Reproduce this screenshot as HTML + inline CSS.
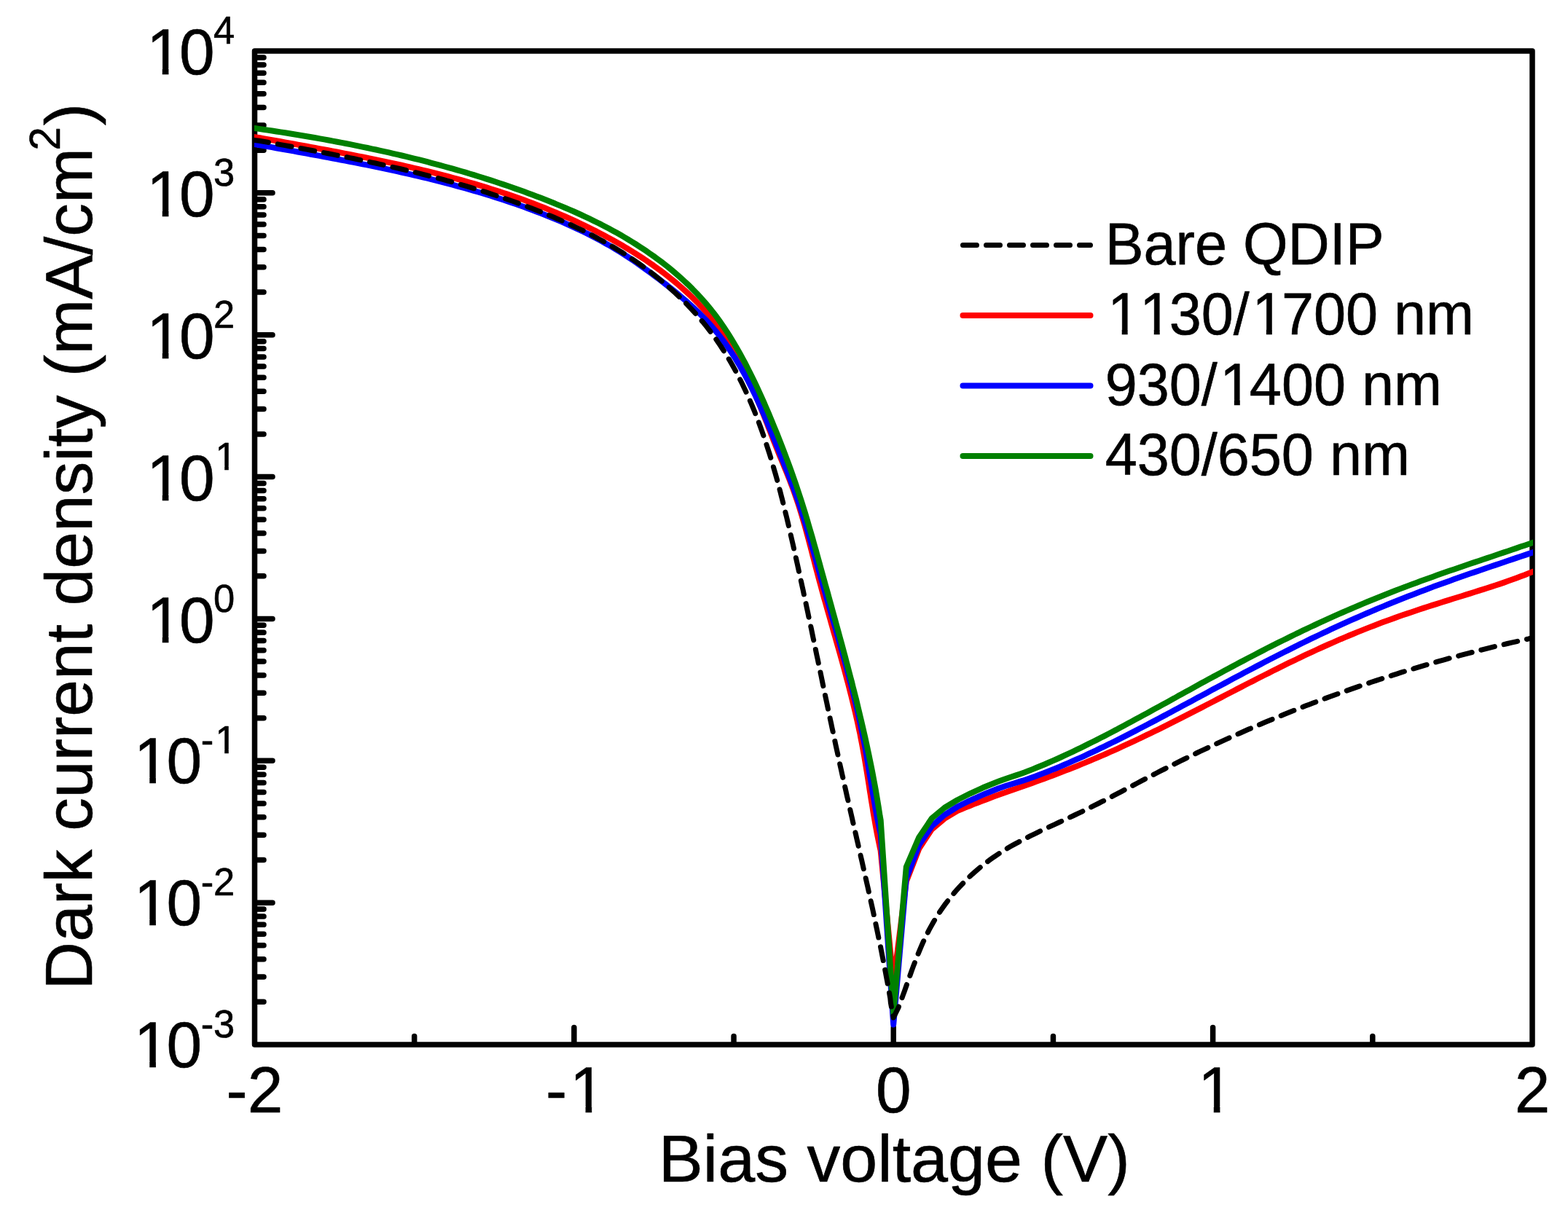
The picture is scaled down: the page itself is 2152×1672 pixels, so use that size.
<!DOCTYPE html>
<html lang="en">
<head>
<meta charset="utf-8">
<title>Dark current density vs bias voltage</title>
<style>
html,body{margin:0;padding:0;background:#fff;}
body{width:2152px;height:1672px;overflow:hidden;}
svg{display:block;}
text{font-family:"Liberation Sans",sans-serif;fill:#000;stroke:#000;stroke-width:0.6px;stroke-linejoin:round;font-kerning:none;font-variant-ligatures:none;white-space:pre;}
.tk{font-size:87.5px;}
.sp{font-size:52.5px;}
.ti{font-size:91.67px;}
.ts{font-size:58.3px;}
.lg{font-size:79.2px;}
.ax{stroke:#000;stroke-width:7.5;fill:none;stroke-linecap:round;stroke-linejoin:round;}
</style>
</head>
<body>
<svg width="2152" height="1672" viewBox="0 0 2152 1672">
<rect x="0" y="0" width="2152" height="1672" fill="#fff"/>

<g id="axes">
<path class="ax" d="M350.5 1375.34h11.5M350.5 1341.03h11.5M350.5 1316.68h11.5M350.5 1297.80h11.5M350.5 1282.37h11.5M350.5 1269.33h11.5M350.5 1258.03h11.5M350.5 1248.06h11.5M350.5 1239.14h23.5M350.5 1180.49h11.5M350.5 1146.17h11.5M350.5 1121.83h11.5M350.5 1102.94h11.5M350.5 1087.51h11.5M350.5 1074.47h11.5M350.5 1063.17h11.5M350.5 1053.20h11.5M350.5 1044.29h23.5M350.5 985.63h11.5M350.5 951.32h11.5M350.5 926.97h11.5M350.5 908.09h11.5M350.5 892.66h11.5M350.5 879.61h11.5M350.5 868.31h11.5M350.5 858.34h11.5M350.5 849.43h23.5M350.5 790.77h11.5M350.5 756.46h11.5M350.5 732.11h11.5M350.5 713.23h11.5M350.5 697.80h11.5M350.5 684.76h11.5M350.5 673.46h11.5M350.5 663.49h11.5M350.5 654.57h23.5M350.5 595.91h11.5M350.5 561.60h11.5M350.5 537.26h11.5M350.5 518.37h11.5M350.5 502.94h11.5M350.5 489.90h11.5M350.5 478.60h11.5M350.5 468.63h11.5M350.5 459.71h23.5M350.5 401.06h11.5M350.5 366.74h11.5M350.5 342.40h11.5M350.5 323.51h11.5M350.5 308.09h11.5M350.5 295.04h11.5M350.5 283.74h11.5M350.5 273.77h11.5M350.5 264.86h23.5M350.5 206.20h11.5M350.5 171.89h11.5M350.5 147.54h11.5M350.5 128.66h11.5M350.5 113.23h11.5M350.5 100.18h11.5M350.5 88.88h11.5M350.5 78.92h11.5M568.69 1433.0v-10.5M787.88 1433.0v-22.5M1007.06 1433.0v-10.5M1226.25 1433.0v-22.5M1445.44 1433.0v-10.5M1664.62 1433.0v-22.5M1883.81 1433.0v-10.5"/>
<rect class="ax" x="349.5" y="70.0" width="1753.5" height="1364.0"/>
</g>
<g id="curves">
<clipPath id="pc"><rect x="349" y="66" width="1755" height="1372"/></clipPath>
<g clip-path="url(#pc)" fill="none" stroke-linejoin="round">
<path id="c-red" stroke="#f00" stroke-width="8" d="M343.5 187.4L349.5 188.2L355.5 189.0L361.4 190.1L367.3 191.1L373.2 192.2L379.1 193.3L385.0 194.3L390.9 195.4L396.8 196.5L402.8 197.5L408.7 198.6L414.6 199.7L420.5 200.8L426.5 201.9L432.4 203.0L438.3 204.1L444.3 205.2L450.2 206.3L456.1 207.4L462.1 208.5L468.0 209.6L473.9 210.8L479.9 211.9L485.8 213.1L491.7 214.3L497.7 215.5L503.6 216.7L509.5 217.9L515.5 219.1L521.4 220.3L527.3 221.6L533.2 222.8L539.1 224.1L545.0 225.4L551.0 226.7L556.9 228.1L562.7 229.4L568.6 230.8L574.5 232.2L580.4 233.6L586.3 235.0L592.2 236.4L598.0 237.9L603.9 239.4L609.7 240.9L615.6 242.4L621.4 244.0L627.2 245.6L633.1 247.2L638.9 248.8L644.7 250.5L650.5 252.2L656.2 253.9L662.0 255.6L667.8 257.4L673.5 259.2L679.3 261.0L685.0 262.8L690.7 264.7L696.4 266.6L702.1 268.6L707.8 270.6L713.5 272.6L719.2 274.6L724.8 276.7L730.5 278.8L736.1 280.9L741.7 283.1L747.3 285.3L752.9 287.6L758.4 289.9L764.0 292.2L769.5 294.6L775.1 297.0L780.6 299.4L786.1 301.9L791.5 304.4L797.0 307.0L802.4 309.6L807.9 312.3L813.3 315.0L818.7 317.7L824.0 320.5L829.4 323.3L834.7 326.2L840.0 329.1L845.3 332.1L850.6 335.1L855.9 338.1L861.1 341.2L866.3 344.4L871.5 347.6L876.6 350.9L881.7 354.2L886.8 357.5L891.8 361.0L896.8 364.4L901.7 367.9L906.6 371.5L911.4 375.2L916.2 378.9L920.9 382.6L925.6 386.4L930.2 390.3L934.8 394.2L939.3 398.2L943.7 402.3L948.1 406.4L952.4 410.6L956.6 414.8L960.8 419.2L964.8 423.5L968.8 428.0L972.8 432.5L976.6 437.1L980.3 441.7L984.0 446.5L987.5 451.3L991.0 456.1L994.4 461.1L997.7 466.1L1000.9 471.1L1004.0 476.3L1007.1 481.5L1010.1 486.7L1013.0 492.0L1015.8 497.3L1018.6 502.7L1021.3 508.1L1023.9 513.6L1026.5 519.1L1029.1 524.7L1031.6 530.2L1034.0 535.8L1036.4 541.4L1038.8 547.0L1041.2 552.7L1043.5 558.3L1045.8 564.0L1048.1 569.7L1050.3 575.4L1052.6 581.0L1054.8 586.7L1057.0 592.4L1059.2 598.0L1061.4 603.7L1063.6 609.3L1065.9 614.9L1068.1 620.5L1070.3 626.0L1072.6 631.5L1074.9 637.1L1077.1 642.5L1079.4 648.0L1081.6 653.5L1083.8 659.0L1085.9 664.6L1088.0 670.1L1090.0 675.7L1092.0 681.3L1093.9 686.9L1095.8 692.6L1097.6 698.3L1099.4 704.1L1101.1 709.8L1102.8 715.6L1104.5 721.4L1106.1 727.2L1107.7 733.1L1109.3 738.9L1110.8 744.8L1112.4 750.7L1113.9 756.5L1115.4 762.4L1117.0 768.3L1118.5 774.2L1120.0 780.1L1121.6 785.9L1123.1 791.8L1124.7 797.7L1126.3 803.5L1127.9 809.4L1129.5 815.2L1131.1 821.1L1132.8 826.9L1134.4 832.7L1136.1 838.5L1137.7 844.3L1139.4 850.2L1141.0 856.0L1142.7 861.8L1144.3 867.6L1146.0 873.4L1147.6 879.2L1149.3 885.0L1150.9 890.8L1152.6 896.6L1154.2 902.4L1155.8 908.2L1157.4 914.0L1159.0 919.8L1160.6 925.6L1162.1 931.5L1163.7 937.3L1165.2 943.1L1166.7 948.9L1168.2 954.8L1169.6 960.6L1171.1 966.4L1172.5 972.3L1173.9 978.1L1175.2 984.0L1176.6 989.9L1177.9 995.8L1179.1 1001.7L1180.4 1007.5L1181.5 1013.5L1182.7 1019.4L1183.8 1025.3L1184.9 1031.2L1186.0 1037.2L1187.0 1043.1L1188.0 1049.1L1189.0 1055.1L1190.0 1061.0L1190.9 1067.0L1191.9 1073.0L1192.8 1079.0L1193.7 1084.9L1194.7 1090.9L1195.6 1096.9L1196.6 1102.9L1197.6 1108.8L1198.5 1114.8L1199.5 1120.7L1200.6 1126.7L1201.6 1132.6L1202.7 1138.6L1203.8 1144.5L1205.0 1150.4L1206.2 1156.3L1207.4 1162.1L1208.7 1168.0L1226.2 1350.0L1243.8 1210.0L1261.3 1165.0L1278.9 1138.4L1296.4 1123.7L1313.9 1113.0L1319.6 1110.7L1325.2 1108.4L1330.8 1106.2L1336.5 1103.9L1342.2 1101.7L1347.8 1099.5L1353.5 1097.4L1359.2 1095.2L1364.9 1093.1L1370.6 1091.0L1376.3 1088.9L1382.0 1086.9L1387.8 1084.9L1393.5 1082.9L1399.3 1081.0L1405.0 1079.0L1410.7 1077.0L1416.5 1074.9L1422.2 1072.8L1427.9 1070.8L1433.6 1068.7L1439.3 1066.6L1445.0 1064.4L1450.7 1062.3L1456.4 1060.1L1462.0 1057.9L1467.7 1055.7L1473.3 1053.5L1479.0 1051.2L1484.6 1048.9L1490.2 1046.6L1495.8 1044.3L1501.4 1041.9L1507.0 1039.5L1512.6 1037.1L1518.2 1034.7L1523.8 1032.2L1529.3 1029.8L1534.8 1027.3L1540.4 1024.7L1545.9 1022.2L1551.4 1019.6L1556.9 1017.1L1562.4 1014.5L1567.9 1011.9L1573.4 1009.2L1578.9 1006.6L1584.3 1003.9L1589.8 1001.3L1595.2 998.6L1600.7 995.9L1606.1 993.2L1611.5 990.4L1617.0 987.7L1622.4 984.9L1627.8 982.2L1633.2 979.4L1638.6 976.6L1644.0 973.9L1649.4 971.1L1654.8 968.3L1660.2 965.5L1665.6 962.7L1671.0 959.9L1676.4 957.1L1681.8 954.3L1687.2 951.5L1692.6 948.7L1698.0 945.9L1703.4 943.1L1708.8 940.3L1714.2 937.5L1719.6 934.8L1725.0 932.0L1730.4 929.2L1735.9 926.5L1741.3 923.8L1746.7 921.0L1752.2 918.3L1757.6 915.6L1763.1 912.9L1768.5 910.2L1774.0 907.6L1779.5 905.0L1784.9 902.3L1790.4 899.7L1795.9 897.1L1801.5 894.6L1807.0 892.0L1812.5 889.5L1818.0 887.0L1823.6 884.5L1829.2 882.1L1834.7 879.7L1840.3 877.2L1845.9 874.9L1851.5 872.5L1857.1 870.2L1862.7 867.9L1868.4 865.6L1874.0 863.4L1879.7 861.1L1885.4 858.9L1891.0 856.8L1896.7 854.6L1902.4 852.5L1908.1 850.4L1913.9 848.4L1919.6 846.3L1925.3 844.3L1931.1 842.4L1936.8 840.4L1942.6 838.5L1948.3 836.5L1954.1 834.6L1959.9 832.8L1965.7 830.9L1971.5 829.1L1977.3 827.2L1983.1 825.4L1988.9 823.6L1994.7 821.8L2000.5 820.0L2006.3 818.2L2012.1 816.4L2017.9 814.6L2023.7 812.8L2029.5 810.9L2035.3 809.1L2041.1 807.2L2046.9 805.4L2052.6 803.5L2058.4 801.6L2064.2 799.6L2069.9 797.6L2075.6 795.6L2081.3 793.5L2087.0 791.3L2092.7 789.2L2098.3 786.9L2104.0 784.7L2110.0 782.3"/>
<path id="c-blue" stroke="#00f" stroke-width="8" d="M343.5 197.0L349.5 198.0L355.5 199.0L361.4 200.0L367.3 201.1L373.2 202.1L379.1 203.2L385.0 204.2L390.9 205.3L396.9 206.4L402.8 207.4L408.7 208.5L414.6 209.6L420.6 210.6L426.5 211.7L432.4 212.8L438.4 213.9L444.3 215.0L450.2 216.1L456.2 217.2L462.1 218.3L468.0 219.5L474.0 220.6L479.9 221.7L485.8 222.9L491.8 224.1L497.7 225.3L503.6 226.4L509.5 227.7L515.4 228.9L521.4 230.1L527.3 231.3L533.2 232.6L539.1 233.9L545.0 235.2L550.9 236.5L556.8 237.8L562.7 239.2L568.6 240.5L574.4 241.9L580.3 243.3L586.2 244.7L592.0 246.2L597.9 247.6L603.8 249.1L609.6 250.6L615.4 252.1L621.3 253.7L627.1 255.3L632.9 256.9L638.7 258.5L644.5 260.1L650.3 261.8L656.1 263.5L661.9 265.2L667.6 267.0L673.4 268.8L679.2 270.6L684.9 272.4L690.6 274.3L696.3 276.2L702.1 278.1L707.8 280.1L713.4 282.1L719.1 284.1L724.8 286.2L730.4 288.3L736.1 290.4L741.7 292.5L747.3 294.7L752.9 297.0L758.5 299.3L764.1 301.6L769.6 303.9L775.2 306.3L780.7 308.8L786.2 311.3L791.6 313.8L797.1 316.4L802.5 319.0L807.9 321.7L813.2 324.4L818.6 327.2L823.9 330.1L829.1 333.0L834.4 335.9L839.6 338.9L844.8 342.0L849.9 345.1L855.0 348.3L860.1 351.6L865.1 354.9L870.1 358.3L875.1 361.7L880.0 365.2L884.9 368.7L889.8 372.2L894.7 375.8L899.5 379.5L904.4 383.1L909.2 386.8L914.0 390.5L918.8 394.3L923.5 398.1L928.2 401.9L932.9 405.8L937.5 409.7L942.1 413.6L946.6 417.7L951.0 421.7L955.4 425.9L959.8 430.0L964.0 434.3L968.2 438.6L972.3 443.0L976.3 447.5L980.2 452.0L984.0 456.6L987.7 461.3L991.4 466.1L994.9 470.9L998.4 475.7L1001.8 480.7L1005.1 485.7L1008.4 490.7L1011.5 495.8L1014.6 501.0L1017.6 506.2L1020.6 511.4L1023.4 516.7L1026.3 522.0L1029.0 527.4L1031.7 532.8L1034.4 538.2L1037.0 543.6L1039.5 549.1L1042.0 554.6L1044.5 560.1L1046.9 565.7L1049.4 571.2L1051.7 576.8L1054.1 582.4L1056.4 588.0L1058.7 593.6L1061.0 599.2L1063.3 604.8L1065.5 610.4L1067.8 616.0L1070.1 621.6L1072.3 627.2L1074.6 632.8L1076.8 638.4L1079.1 644.0L1081.3 649.6L1083.5 655.2L1085.6 660.8L1087.8 666.4L1089.9 672.0L1091.9 677.7L1093.9 683.4L1095.9 689.0L1097.8 694.7L1099.7 700.4L1101.5 706.2L1103.3 711.9L1105.1 717.6L1106.8 723.4L1108.5 729.2L1110.2 734.9L1111.9 740.7L1113.5 746.5L1115.2 752.3L1116.8 758.1L1118.5 763.9L1120.1 769.7L1121.7 775.5L1123.3 781.3L1125.0 787.1L1126.6 792.9L1128.3 798.7L1129.9 804.6L1131.6 810.4L1133.3 816.2L1134.9 822.0L1136.6 827.8L1138.3 833.6L1140.0 839.4L1141.6 845.2L1143.3 851.0L1145.0 856.8L1146.7 862.6L1148.3 868.4L1150.0 874.2L1151.7 880.0L1153.3 885.8L1154.9 891.6L1156.6 897.4L1158.2 903.2L1159.8 909.1L1161.4 914.9L1162.9 920.7L1164.5 926.5L1166.0 932.4L1167.6 938.2L1169.1 944.0L1170.5 949.9L1172.0 955.7L1173.4 961.6L1174.8 967.4L1176.2 973.3L1177.6 979.2L1178.9 985.0L1180.2 990.9L1181.5 996.8L1182.7 1002.7L1183.9 1008.6L1185.1 1014.5L1186.3 1020.4L1187.4 1026.3L1188.5 1032.3L1189.5 1038.2L1190.5 1044.1L1191.5 1050.1L1192.5 1056.0L1193.5 1062.0L1194.5 1067.9L1195.5 1073.9L1196.5 1079.8L1197.4 1085.8L1198.4 1091.7L1199.5 1097.7L1200.5 1103.6L1201.5 1109.5L1202.6 1115.5L1203.7 1121.4L1204.9 1127.3L1206.1 1133.2L1207.3 1139.1L1208.7 1145.0L1226.2 1406.5L1243.8 1206.0L1261.3 1160.0L1278.9 1134.0L1296.4 1118.6L1313.9 1107.5L1319.3 1104.7L1324.8 1102.0L1330.2 1099.4L1335.7 1096.8L1341.3 1094.3L1346.8 1091.9L1352.4 1089.5L1358.0 1087.2L1363.6 1085.0L1369.2 1082.8L1374.9 1080.7L1380.6 1078.8L1386.3 1077.0L1392.1 1075.2L1398.0 1073.4L1403.7 1071.7L1409.5 1069.8L1415.2 1067.8L1420.9 1065.7L1426.6 1063.6L1432.2 1061.4L1437.8 1059.2L1443.5 1056.9L1449.1 1054.7L1454.7 1052.4L1460.2 1050.0L1465.8 1047.6L1471.3 1045.2L1476.9 1042.7L1482.4 1040.3L1487.9 1037.8L1493.4 1035.2L1498.9 1032.6L1504.4 1030.1L1509.8 1027.4L1515.3 1024.8L1520.7 1022.2L1526.1 1019.5L1531.6 1016.8L1537.0 1014.1L1542.4 1011.4L1547.8 1008.6L1553.1 1005.9L1558.5 1003.1L1563.9 1000.3L1569.3 997.5L1574.6 994.7L1580.0 991.9L1585.3 989.1L1590.7 986.2L1596.0 983.4L1601.4 980.6L1606.7 977.7L1612.1 974.8L1617.4 972.0L1622.7 969.1L1628.0 966.2L1633.4 963.4L1638.7 960.5L1644.0 957.6L1649.4 954.8L1654.7 951.9L1660.0 949.0L1665.3 946.1L1670.7 943.3L1676.0 940.4L1681.3 937.6L1686.7 934.7L1692.0 931.8L1697.3 929.0L1702.7 926.2L1708.0 923.3L1713.4 920.5L1718.7 917.7L1724.1 914.9L1729.5 912.1L1734.8 909.3L1740.2 906.5L1745.6 903.7L1751.0 901.0L1756.4 898.2L1761.8 895.5L1767.2 892.8L1772.6 890.1L1778.0 887.4L1783.4 884.7L1788.9 882.0L1794.3 879.4L1799.7 876.7L1805.2 874.1L1810.7 871.5L1816.1 868.9L1821.6 866.3L1827.1 863.7L1832.6 861.2L1838.1 858.7L1843.6 856.2L1849.1 853.7L1854.6 851.2L1860.2 848.8L1865.7 846.3L1871.2 843.9L1876.8 841.5L1882.4 839.1L1887.9 836.8L1893.5 834.4L1899.1 832.1L1904.7 829.8L1910.3 827.5L1915.9 825.2L1921.5 823.0L1927.2 820.8L1932.8 818.5L1938.4 816.4L1944.1 814.2L1949.7 812.0L1955.4 809.9L1961.1 807.8L1966.7 805.6L1972.4 803.6L1978.1 801.5L1983.8 799.4L1989.5 797.4L1995.2 795.3L2000.9 793.3L2006.6 791.3L2012.3 789.3L2018.0 787.3L2023.8 785.4L2029.5 783.4L2035.2 781.4L2040.9 779.5L2046.7 777.5L2052.4 775.6L2058.1 773.7L2063.9 771.7L2069.6 769.8L2075.3 767.9L2081.1 765.9L2086.8 764.0L2092.5 762.1L2098.3 760.1L2104.0 758.2L2110.0 756.2"/>
<path id="c-green" stroke="#008000" stroke-width="8" d="M343.5 175.1L349.5 176.0L355.5 176.9L361.5 177.7L367.4 178.6L373.4 179.5L379.4 180.5L385.4 181.4L391.4 182.3L397.3 183.3L403.3 184.3L409.3 185.2L415.3 186.2L421.2 187.2L427.2 188.3L433.1 189.3L439.1 190.4L445.0 191.4L451.0 192.5L456.9 193.6L462.8 194.7L468.8 195.9L474.7 197.0L480.6 198.2L486.5 199.4L492.5 200.6L498.4 201.8L504.3 203.0L510.2 204.3L516.1 205.5L522.0 206.8L527.9 208.1L533.8 209.4L539.6 210.8L545.5 212.1L551.4 213.5L557.2 214.9L563.1 216.3L569.0 217.8L574.8 219.2L580.7 220.7L586.5 222.2L592.3 223.8L598.2 225.3L604.0 226.9L609.8 228.5L615.6 230.1L621.4 231.7L627.2 233.4L633.0 235.0L638.8 236.7L644.6 238.5L650.3 240.2L656.1 242.0L661.9 243.8L667.6 245.6L673.4 247.4L679.1 249.3L684.9 251.2L690.6 253.1L696.3 255.1L702.0 257.1L707.8 259.1L713.5 261.1L719.2 263.1L724.8 265.2L730.5 267.3L736.2 269.4L741.9 271.6L747.5 273.8L753.2 276.0L758.8 278.3L764.4 280.6L770.0 282.9L775.6 285.2L781.2 287.6L786.8 290.0L792.3 292.5L797.8 295.0L803.3 297.6L808.8 300.2L814.2 302.8L819.7 305.5L825.1 308.2L830.4 311.0L835.8 313.8L841.1 316.7L846.4 319.6L851.7 322.6L856.9 325.6L862.1 328.7L867.2 331.8L872.3 335.0L877.4 338.3L882.5 341.6L887.5 344.9L892.4 348.4L897.4 351.9L902.2 355.4L907.1 359.0L911.8 362.7L916.6 366.4L921.2 370.2L925.9 374.1L930.4 378.0L934.9 382.0L939.4 386.1L943.8 390.2L948.1 394.4L952.3 398.7L956.5 403.0L960.6 407.4L964.6 411.9L968.6 416.4L972.5 421.0L976.3 425.7L980.0 430.4L983.6 435.2L987.2 440.1L990.6 445.0L994.0 450.0L997.4 455.1L1000.6 460.2L1003.8 465.3L1006.9 470.5L1010.0 475.7L1013.0 481.0L1016.0 486.3L1018.9 491.6L1021.8 496.9L1024.6 502.3L1027.3 507.7L1030.0 513.1L1032.7 518.5L1035.4 524.0L1038.0 529.4L1040.5 534.9L1043.0 540.4L1045.5 545.9L1048.0 551.5L1050.4 557.0L1052.8 562.6L1055.2 568.1L1057.5 573.7L1059.8 579.3L1062.1 584.9L1064.4 590.5L1066.7 596.1L1068.9 601.7L1071.1 607.3L1073.3 612.9L1075.4 618.5L1077.6 624.1L1079.7 629.8L1081.8 635.4L1083.9 641.1L1085.9 646.7L1087.9 652.4L1089.9 658.1L1091.9 663.8L1093.8 669.5L1095.7 675.2L1097.6 680.9L1099.5 686.7L1101.3 692.4L1103.1 698.2L1104.9 704.0L1106.6 709.7L1108.3 715.5L1110.0 721.3L1111.7 727.1L1113.4 732.9L1115.1 738.7L1116.7 744.5L1118.3 750.3L1120.0 756.2L1121.6 762.0L1123.2 767.8L1124.8 773.6L1126.4 779.5L1128.0 785.3L1129.6 791.1L1131.2 796.9L1132.8 802.8L1134.5 808.6L1136.1 814.4L1137.7 820.2L1139.3 826.1L1140.9 831.9L1142.5 837.7L1144.1 843.5L1145.7 849.4L1147.3 855.2L1148.9 861.0L1150.5 866.9L1152.1 872.7L1153.7 878.5L1155.3 884.3L1156.9 890.2L1158.4 896.0L1160.0 901.9L1161.5 907.7L1163.1 913.5L1164.6 919.4L1166.1 925.2L1167.6 931.1L1169.2 936.9L1170.6 942.8L1172.1 948.6L1173.6 954.5L1175.1 960.3L1176.5 966.2L1177.9 972.1L1179.3 977.9L1180.7 983.8L1182.1 989.7L1183.5 995.6L1184.8 1001.4L1186.2 1007.3L1187.5 1013.2L1188.8 1019.1L1190.1 1025.0L1191.3 1030.9L1192.6 1036.8L1193.8 1042.7L1195.0 1048.6L1196.2 1054.6L1197.4 1060.5L1198.5 1066.4L1199.6 1072.4L1200.7 1078.3L1201.8 1084.3L1202.8 1090.2L1203.8 1096.2L1204.8 1102.1L1205.8 1108.1L1206.7 1114.1L1207.6 1120.1L1208.7 1126.0L1226.2 1392.0L1243.8 1190.0L1261.3 1149.4L1278.9 1123.3L1296.4 1108.7L1313.9 1098.2L1331.5 1089.3L1349.0 1081.3L1354.6 1079.0L1360.2 1076.7L1365.8 1074.5L1371.5 1072.3L1377.1 1070.2L1382.8 1068.2L1388.6 1066.3L1394.3 1064.4L1400.0 1062.4L1405.7 1060.4L1411.4 1058.3L1417.0 1056.1L1422.6 1053.8L1428.2 1051.5L1433.8 1049.2L1439.4 1046.8L1444.9 1044.4L1450.4 1042.0L1455.9 1039.5L1461.4 1036.9L1466.9 1034.4L1472.4 1031.8L1477.8 1029.2L1483.3 1026.6L1488.7 1023.9L1494.1 1021.2L1499.5 1018.5L1504.9 1015.8L1510.3 1013.0L1515.7 1010.3L1521.1 1007.5L1526.4 1004.7L1531.8 1001.9L1537.1 999.0L1542.4 996.2L1547.8 993.3L1553.1 990.5L1558.4 987.6L1563.7 984.7L1569.1 981.8L1574.4 979.0L1579.7 976.0L1585.0 973.1L1590.3 970.2L1595.6 967.3L1600.9 964.4L1606.2 961.5L1611.5 958.6L1616.7 955.6L1622.0 952.7L1627.3 949.8L1632.6 946.9L1637.9 944.0L1643.2 941.1L1648.5 938.1L1653.8 935.2L1659.1 932.3L1664.4 929.4L1669.8 926.6L1675.1 923.7L1680.4 920.8L1685.7 917.9L1691.0 915.1L1696.4 912.2L1701.7 909.4L1707.1 906.6L1712.4 903.8L1717.8 901.0L1723.1 898.2L1728.5 895.4L1733.9 892.6L1739.3 889.8L1744.6 887.1L1750.0 884.4L1755.4 881.7L1760.9 879.0L1766.3 876.3L1771.7 873.6L1777.1 871.0L1782.6 868.3L1788.0 865.7L1793.5 863.1L1799.0 860.5L1804.4 858.0L1809.9 855.4L1815.4 852.9L1820.9 850.4L1826.4 847.9L1831.9 845.4L1837.5 842.9L1843.0 840.5L1848.5 838.1L1854.1 835.7L1859.6 833.3L1865.2 831.0L1870.8 828.6L1876.4 826.3L1882.0 824.0L1887.6 821.7L1893.2 819.5L1898.8 817.2L1904.4 815.0L1910.0 812.8L1915.7 810.6L1921.3 808.4L1927.0 806.3L1932.6 804.1L1938.3 802.0L1944.0 799.9L1949.6 797.8L1955.3 795.8L1961.0 793.7L1966.7 791.7L1972.4 789.6L1978.1 787.6L1983.8 785.6L1989.5 783.6L1995.2 781.7L2000.9 779.7L2006.7 777.7L2012.4 775.8L2018.1 773.8L2023.8 771.9L2029.6 770.0L2035.3 768.0L2041.0 766.1L2046.8 764.2L2052.5 762.3L2058.2 760.3L2063.9 758.4L2069.7 756.5L2075.4 754.5L2081.1 752.6L2086.8 750.6L2092.6 748.7L2098.3 746.7L2104.0 744.7L2110.0 742.7"/>
<path id="c-black" stroke="#000" stroke-width="7" stroke-dasharray="19.1 13.05" stroke-dashoffset="-6.1" stroke-linecap="round" d="M343.5 191.8L349.5 192.5L355.6 193.2L361.5 194.2L367.5 195.3L373.4 196.4L379.4 197.5L385.3 198.6L391.2 199.6L397.2 200.7L403.1 201.8L409.0 202.9L415.0 204.0L420.9 205.1L426.8 206.2L432.7 207.4L438.7 208.5L444.6 209.6L450.5 210.8L456.4 211.9L462.3 213.1L468.2 214.3L474.1 215.4L480.0 216.6L485.9 217.8L491.8 219.1L497.7 220.3L503.6 221.5L509.5 222.8L515.4 224.0L521.3 225.3L527.1 226.6L533.0 227.9L538.9 229.3L544.7 230.6L550.6 232.0L556.4 233.4L562.3 234.8L568.1 236.2L574.0 237.6L579.8 239.1L585.6 240.6L591.4 242.1L597.3 243.6L603.1 245.1L608.9 246.7L614.7 248.3L620.5 249.9L626.3 251.6L632.0 253.2L637.8 254.9L643.6 256.6L649.3 258.4L655.1 260.1L660.8 261.9L666.6 263.7L672.3 265.6L678.0 267.5L683.8 269.4L689.5 271.3L695.2 273.3L700.9 275.3L706.6 277.3L712.3 279.4L717.9 281.5L723.6 283.6L729.3 285.8L734.9 288.0L740.6 290.2L746.2 292.5L751.8 294.8L757.4 297.1L763.0 299.5L768.6 301.9L774.1 304.4L779.7 306.9L785.2 309.5L790.7 312.1L796.2 314.7L801.7 317.4L807.1 320.1L812.5 322.9L817.9 325.8L823.2 328.7L828.6 331.6L833.9 334.6L839.1 337.6L844.4 340.8L849.6 343.9L854.8 347.1L859.9 350.4L865.0 353.8L870.0 357.2L875.1 360.6L880.0 364.1L885.0 367.7L889.9 371.3L894.7 375.0L899.5 378.8L904.2 382.6L908.9 386.4L913.5 390.3L918.1 394.3L922.6 398.3L927.1 402.4L931.5 406.6L935.8 410.8L940.1 415.0L944.3 419.3L948.4 423.7L952.5 428.1L956.5 432.5L960.4 437.1L964.3 441.6L968.1 446.2L971.7 450.9L975.4 455.6L978.9 460.4L982.4 465.2L985.7 470.1L989.1 475.0L992.3 480.0L995.5 485.0L998.6 490.0L1001.6 495.1L1004.6 500.2L1007.5 505.4L1010.3 510.6L1013.1 515.9L1015.8 521.2L1018.5 526.5L1021.1 531.9L1023.6 537.3L1026.1 542.7L1028.5 548.2L1030.9 553.6L1033.2 559.2L1035.5 564.7L1037.7 570.3L1039.9 575.9L1042.0 581.5L1044.1 587.2L1046.1 592.9L1048.1 598.6L1050.0 604.3L1051.9 610.1L1053.8 615.8L1055.7 621.6L1057.5 627.4L1059.2 633.3L1060.9 639.1L1062.6 644.9L1064.3 650.8L1066.0 656.7L1067.6 662.6L1069.1 668.5L1070.7 674.4L1072.2 680.3L1073.7 686.2L1075.2 692.2L1076.7 698.1L1078.1 704.1L1079.6 710.0L1081.0 715.9L1082.4 721.9L1083.8 727.8L1085.1 733.8L1086.5 739.7L1087.9 745.7L1089.2 751.6L1090.5 757.6L1091.9 763.5L1093.2 769.4L1094.5 775.3L1095.8 781.3L1097.1 787.2L1098.4 793.1L1099.7 799.0L1101.0 804.9L1102.3 810.8L1103.5 816.7L1104.8 822.6L1106.1 828.5L1107.3 834.4L1108.6 840.3L1109.8 846.2L1111.1 852.1L1112.3 858.0L1113.6 863.8L1114.8 869.7L1116.0 875.6L1117.3 881.5L1118.5 887.3L1119.7 893.2L1120.9 899.1L1122.2 905.0L1123.4 910.8L1124.6 916.7L1125.9 922.6L1127.1 928.4L1128.3 934.3L1129.5 940.2L1130.8 946.0L1132.0 951.9L1133.2 957.8L1134.5 963.7L1135.7 969.5L1136.9 975.4L1138.2 981.3L1139.4 987.1L1140.7 993.0L1141.9 998.9L1143.2 1004.7L1144.4 1010.6L1145.7 1016.5L1146.9 1022.4L1148.2 1028.2L1149.5 1034.1L1150.8 1040.0L1152.0 1045.9L1153.3 1051.7L1154.6 1057.6L1155.9 1063.5L1157.3 1069.4L1158.6 1075.3L1159.9 1081.2L1161.2 1087.1L1162.5 1093.0L1163.9 1098.9L1165.2 1104.8L1166.6 1110.7L1167.9 1116.6L1169.3 1122.5L1170.6 1128.4L1172.0 1134.3L1173.3 1140.2L1174.7 1146.1L1176.0 1152.0L1177.4 1157.9L1178.7 1163.8L1180.1 1169.7L1181.4 1175.7L1182.8 1181.6L1184.1 1187.5L1185.4 1193.4L1186.8 1199.3L1188.1 1205.2L1189.4 1211.1L1190.8 1217.0L1192.1 1223.0L1193.4 1228.9L1194.7 1234.8L1196.0 1240.7L1197.3 1246.6L1198.6 1252.5L1199.8 1258.4L1201.1 1264.3L1202.3 1270.2L1203.6 1276.2L1204.8 1282.1L1206.0 1288.0L1207.3 1293.9L1208.5 1299.8L1209.7 1305.7L1210.8 1311.6L1212.0 1317.5L1213.1 1323.4L1214.3 1329.3L1215.4 1335.2L1216.5 1341.1L1217.6 1346.9L1218.7 1352.8L1219.8 1358.7L1220.8 1364.6L1221.8 1370.5L1222.4 1376.7L1226.2 1397.0L1230.3 1388.7L1233.0 1383.2L1235.1 1377.6L1237.2 1372.0L1239.2 1366.4L1241.3 1360.7L1243.3 1355.0L1245.3 1349.3L1247.3 1343.5L1249.4 1337.8L1251.4 1332.1L1253.5 1326.4L1255.7 1320.7L1257.8 1315.0L1260.1 1309.4L1262.4 1303.8L1264.8 1298.2L1267.2 1292.7L1269.8 1287.2L1272.4 1281.8L1275.2 1276.4L1278.1 1271.1L1281.1 1265.8L1284.2 1260.6L1287.4 1255.5L1290.7 1250.5L1294.2 1245.5L1297.7 1240.6L1301.4 1235.8L1305.2 1231.1L1309.0 1226.4L1313.0 1221.8L1317.0 1217.4L1321.2 1213.0L1325.4 1208.7L1329.7 1204.4L1334.1 1200.3L1338.6 1196.3L1343.2 1192.4L1347.9 1188.5L1352.6 1184.8L1357.4 1181.2L1362.3 1177.7L1367.2 1174.3L1372.2 1171.0L1377.3 1167.8L1382.5 1164.6L1387.6 1161.6L1392.9 1158.6L1398.2 1155.8L1403.5 1152.9L1408.9 1150.2L1414.3 1147.4L1419.7 1144.8L1425.2 1142.1L1430.6 1139.5L1436.1 1136.9L1441.6 1134.4L1447.2 1131.8L1452.7 1129.3L1458.2 1126.7L1463.7 1124.2L1469.2 1121.6L1474.7 1119.0L1480.2 1116.4L1485.7 1113.8L1491.1 1111.1L1496.5 1108.4L1502.0 1105.7L1507.4 1103.0L1512.8 1100.2L1518.1 1097.5L1523.5 1094.7L1528.9 1091.9L1534.2 1089.1L1539.6 1086.3L1544.9 1083.5L1550.3 1080.6L1555.6 1077.8L1561.0 1075.0L1566.3 1072.2L1571.7 1069.4L1577.0 1066.6L1582.4 1063.8L1587.7 1061.0L1593.1 1058.2L1598.5 1055.5L1603.9 1052.8L1609.3 1050.0L1614.7 1047.3L1620.1 1044.6L1625.5 1042.0L1630.9 1039.3L1636.3 1036.7L1641.8 1034.0L1647.2 1031.4L1652.7 1028.8L1658.2 1026.3L1663.6 1023.7L1669.1 1021.2L1674.6 1018.6L1680.1 1016.1L1685.6 1013.6L1691.1 1011.1L1696.6 1008.7L1702.2 1006.2L1707.7 1003.8L1713.2 1001.3L1718.8 998.9L1724.3 996.5L1729.9 994.2L1735.5 991.8L1741.0 989.5L1746.6 987.2L1752.2 984.8L1757.8 982.6L1763.4 980.3L1769.0 978.0L1774.6 975.8L1780.2 973.6L1785.9 971.3L1791.5 969.1L1797.2 967.0L1802.8 964.8L1808.5 962.7L1814.1 960.5L1819.8 958.4L1825.5 956.3L1831.1 954.2L1836.8 952.2L1842.5 950.1L1848.2 948.1L1853.9 946.1L1859.6 944.1L1865.3 942.1L1871.1 940.2L1876.8 938.2L1882.5 936.3L1888.3 934.4L1894.0 932.5L1899.8 930.6L1905.5 928.7L1911.3 926.9L1917.0 925.1L1922.8 923.2L1928.6 921.4L1934.4 919.7L1940.2 917.9L1946.0 916.2L1951.8 914.4L1957.6 912.7L1963.4 911.0L1969.2 909.4L1975.0 907.7L1980.8 906.1L1986.7 904.4L1992.5 902.8L1998.3 901.2L2004.2 899.7L2010.0 898.1L2015.9 896.6L2021.7 895.1L2027.6 893.6L2033.4 892.1L2039.3 890.6L2045.2 889.2L2051.1 887.7L2056.9 886.3L2062.8 884.9L2068.7 883.5L2074.6 882.2L2080.5 880.8L2086.4 879.5L2092.3 878.2L2098.2 876.9L2104.0 875.0L2110.0 873.0"/>
</g>
</g>
<defs><clipPath id="k1"><path clip-rule="evenodd" d="M-3000-3000H3000V3000H-3000ZM-112.48 -7.74h16.89v9.54h-16.89ZM-86.96 -7.74h16.20v9.54h-16.20Z"/></clipPath><clipPath id="k2"><path clip-rule="evenodd" d="M-3000-3000H3000V3000H-3000ZM-114.85 -7.74h16.89v9.54h-16.89ZM-89.33 -7.74h16.20v9.54h-16.20ZM-23.26 -46.20h10.75v6.92h-10.75ZM-6.97 -46.20h10.34v6.92h-10.34Z"/></clipPath><clipPath id="k3"><path clip-rule="evenodd" d="M-3000-3000H3000V3000H-3000ZM-132.33 -7.74h16.89v9.54h-16.89ZM-106.81 -7.74h16.20v9.54h-16.20ZM-23.26 -45.12h10.75v6.92h-10.75ZM-6.97 -45.12h10.34v6.92h-10.34Z"/></clipPath><clipPath id="k4"><path clip-rule="evenodd" d="M-3000-3000H3000V3000H-3000ZM-129.97 -7.74h16.89v9.54h-16.89ZM-104.45 -7.74h16.20v9.54h-16.20Z"/></clipPath><clipPath id="k5"><path clip-rule="evenodd" d="M-3000-3000H3000V3000H-3000ZM-3.13 -7.74h16.89v9.54h-16.89ZM22.39 -7.74h16.20v9.54h-16.20Z"/></clipPath><clipPath id="k6"><path clip-rule="evenodd" d="M-3000-3000H3000V3000H-3000ZM-15.73 -7.74h16.89v9.54h-16.89ZM9.79 -7.74h16.20v9.54h-16.20Z"/></clipPath><clipPath id="k7"><path clip-rule="evenodd" d="M-3000-3000H3000V3000H-3000ZM7.60 -7.12h15.43v8.92h-15.43ZM30.93 -7.12h14.81v8.92h-14.81ZM51.64 -7.12h15.43v8.92h-15.43ZM74.98 -7.12h14.81v8.92h-14.81ZM205.79 -7.12h15.43v8.92h-15.43ZM229.12 -7.12h14.81v8.92h-14.81Z"/></clipPath><clipPath id="k8"><path clip-rule="evenodd" d="M-3000-3000H3000V3000H-3000ZM161.74 -7.12h15.43v8.92h-15.43ZM185.08 -7.12h14.81v8.92h-14.81Z"/></clipPath></defs>
<g id="ylabels">
<text class="tk" transform="translate(318.36 102.20) scale(1 1.025)" text-anchor="end" clip-path="url(#k1)"><tspan dx="3.94">1</tspan><tspan dx="-3.94">0</tspan><tspan class="sp" dx="-1.50" dy="-41.07">4</tspan></text>
<text class="tk" transform="translate(318.36 297.06) scale(1 1.025)" text-anchor="end" clip-path="url(#k1)"><tspan dx="3.94">1</tspan><tspan dx="-3.94">0</tspan><tspan class="sp" dx="-1.50" dy="-41.07">3</tspan></text>
<text class="tk" transform="translate(318.36 491.91) scale(1 1.025)" text-anchor="end" clip-path="url(#k1)"><tspan dx="3.94">1</tspan><tspan dx="-3.94">0</tspan><tspan class="sp" dx="-1.50" dy="-41.07">2</tspan></text>
<text class="tk" transform="translate(320.73 686.77) scale(1 1.025)" text-anchor="end" clip-path="url(#k2)"><tspan dx="3.94">1</tspan><tspan dx="-3.94">0</tspan><tspan class="sp" dx="0.86" dy="-41.07">1</tspan></text>
<text class="tk" transform="translate(318.36 881.63) scale(1 1.025)" text-anchor="end" clip-path="url(#k1)"><tspan dx="3.94">1</tspan><tspan dx="-3.94">0</tspan><tspan class="sp" dx="-1.50" dy="-41.07">0</tspan></text>
<text class="tk" transform="translate(320.73 1074.99) scale(1 1.025)" text-anchor="end" clip-path="url(#k3)"><tspan dx="3.94">1</tspan><tspan dx="-3.94">0</tspan><tspan class="sp" dx="-1.50" dy="-40.00">-</tspan><tspan class="sp" dx="2.36">1</tspan></text>
<text class="tk" transform="translate(318.36 1269.84) scale(1 1.025)" text-anchor="end" clip-path="url(#k4)"><tspan dx="3.94">1</tspan><tspan dx="-3.94">0</tspan><tspan class="sp" dx="-1.50" dy="-40.00">-2</tspan></text>
<text class="tk" transform="translate(318.36 1464.70) scale(1 1.025)" text-anchor="end" clip-path="url(#k4)"><tspan dx="3.94">1</tspan><tspan dx="-3.94">0</tspan><tspan class="sp" dx="-1.50" dy="-40.00">-3</tspan></text>
</g>
<g id="xlabels">
<text class="tk" transform="translate(349.50 1527.00) scale(1 1.025)" text-anchor="middle">-2</text>
<text class="tk" transform="translate(789.84 1527.00) scale(1 1.025)" text-anchor="middle" clip-path="url(#k5)">-<tspan dx="3.94">1</tspan></text>
<text class="tk" transform="translate(1226.25 1527.00) scale(1 1.025)" text-anchor="middle">0</text>
<text class="tk" transform="translate(1664.62 1527.00) scale(1 1.025)" text-anchor="middle" clip-path="url(#k6)"><tspan dx="3.94">1</tspan></text>
<text class="tk" transform="translate(2103.00 1527.00) scale(1 1.025)" text-anchor="middle">2</text>
</g>
<text class="ti" transform="translate(1227.20 1622.00)" text-anchor="middle">Bias voltage (V)</text>
<text class="ti" transform="translate(126.10 750.30) rotate(-90) scale(0.995 1.0)" text-anchor="middle">Dark current density (mA/cm<tspan class="ts" dx="-3.50" dy="-44.00">2</tspan><tspan dx="2.00" dy="44.00">)</tspan></text>
<g id="legend">
<path stroke="#000" stroke-width="7" stroke-linecap="round" fill="none" stroke-dasharray="19 13" d="M1321.5 336.4H1496.5"/>
<text class="lg" transform="translate(1516.70 362.90) scale(1 1.03)">Bare QDIP</text>
<path stroke="#f00" stroke-width="8" stroke-linecap="round" fill="none" d="M1321.5 432.9H1496.5"/>
<text class="lg" transform="translate(1516.70 459.40) scale(1 1.03)" clip-path="url(#k7)"><tspan dx="3.56">11</tspan><tspan dx="-3.56">30/</tspan><tspan dx="3.56">1</tspan><tspan dx="-3.56">700 nm</tspan></text>
<path stroke="#00f" stroke-width="8" stroke-linecap="round" fill="none" d="M1321.5 529.4H1496.5"/>
<text class="lg" transform="translate(1516.70 555.90) scale(1 1.03)" clip-path="url(#k8)">930/<tspan dx="3.56">1</tspan><tspan dx="-3.56">400 nm</tspan></text>
<path stroke="#008000" stroke-width="8" stroke-linecap="round" fill="none" d="M1321.5 625.9H1496.5"/>
<text class="lg" transform="translate(1516.70 652.40) scale(1 1.03)">430/650 nm</text>
</g>
</svg>
</body>
</html>
